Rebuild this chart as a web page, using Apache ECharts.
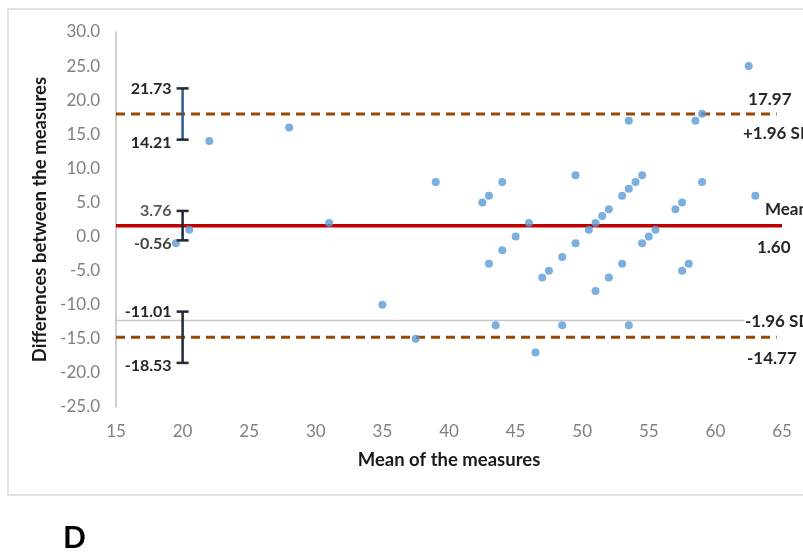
<!DOCTYPE html>
<html><head><meta charset="utf-8">
<script src="https://cdn.jsdelivr.net/npm/echarts@6/dist/echarts.min.js"></script>
<style>html,body{margin:0;padding:0;background:#fff}#c{width:803px;height:558px}</style>
</head><body><div id="c"></div>
<script>
// Data
const meanX = [19.5,20.5,22,28,31,35,37.5,39,42.5,43,44,43,44,45,46,43.5,46.5,47,47.5,48.5,48.5,49.5,49.5,50.5,51,51.5,52,53,53.5,54,54.5,53.5,54.5,55,55.5,51,52,53,53.5,57,57.5,57.5,58,58.5,59,59,62.5,63];
const diffY = [-1,1,14,16,2,-10,-15,8,5,6,8,-4,-2,0,2,-13,-17,-6,-5,-3,-13,9,-1,1,2,3,4,6,7,8,9,17,-1,0,1,-8,-6,-4,-13,4,5,-5,-4,17,18,8,25,6];
const meanDiff = 1.60;
const upperLoA = 17.97;
const lowerLoA = -14.77;
const greyRef = -12.3;
const ciX = 20;
const ciLow = [14.21, -0.56, -18.53];
const ciHigh = [21.73, 3.76, -11.01];
const rightLabels = ['17.97', '+1.96 SD', 'Mean', '1.60', '-1.96 SD', '-14.77'];
const rightLabelY = [upperLoA, upperLoA, meanDiff, meanDiff, greyRef, lowerLoA];

const FONT = 'Lato, "Open Sans", sans-serif';
const chart = echarts.init(document.getElementById('c'), null, {renderer: 'canvas'});

const scatterData = meanX.map((x, i) => [x, diffY[i]]);
const ciData = ciLow.map((lo, i) => [ciX, lo, ciHigh[i]]);
const ciBarColor = ['#2f5b8a', '#1f2a36', '#1f2a36'];
const ciHighTextColor = ['#262626', '#595959', '#262626'];
const ciLowTextColor = ['#262626', '#404040', '#262626'];

// right label placement (x in data units where text starts, y offsets in px)
const rlX = [62.45, 62.07, 63.72, 63.12, 62.22, 62.37];
const rlDy = [-15, 19, -16, 22, 1, 21];

const option = {
  animation: false,
  backgroundColor: '#fff',
  grid: {left: 116, right: 21, top: 32, bottom: 151, containLabel: false, outerBoundsMode: 'none'},
  xAxis: {
    type: 'value', min: 15, max: 65, interval: 5,
    name: 'Mean of the measures', nameLocation: 'middle', nameGap: 44,
    nameTextStyle: {fontFamily: FONT, fontSize: 18.5, fontWeight: 'bold', color: '#1a1a1a'},
    axisLine: {show: false}, axisTick: {show: false}, splitLine: {show: false},
    axisLabel: {margin: 16, fontFamily: FONT, fontSize: 17, color: '#808080'}
  },
  yAxis: {
    type: 'value', min: -25, max: 30, interval: 5,
    name: 'Differences between the measures', nameLocation: 'middle', nameGap: 63,
    nameTextStyle: {fontFamily: FONT, fontSize: 18.5, fontWeight: 'bold', color: '#1a1a1a'},
    axisLine: {show: true, onZero: false, lineStyle: {color: '#bfbfbf', width: 1.5}},
    axisTick: {show: false}, splitLine: {show: false},
    axisLabel: {margin: 16, fontFamily: FONT, fontSize: 17, color: '#808080', formatter: v => v.toFixed(1)}
  },
  graphic: [
    {type: 'rect', shape: {x: 8, y: 9, width: 820, height: 486}, style: {fill: 'none', stroke: '#d9d9d9', lineWidth: 1.5}, silent: true},
    {type: 'text', left: 63, top: 523, style: {text: 'D', font: 'bold 30px ' + FONT, fill: '#000'}}
  ],
  series: [
    {type: 'line', data: [[15, greyRef], [62.2, greyRef]], symbol: 'none', lineStyle: {color: '#c8c8c8', width: 1.5}, z: 1, silent: true},
    {type: 'line', data: [[15, upperLoA], [64.6, upperLoA]], symbol: 'none', lineStyle: {color: '#974706', width: 3, type: [9, 6]}, z: 2, silent: true},
    {type: 'line', data: [[15, lowerLoA], [64.6, lowerLoA]], symbol: 'none', lineStyle: {color: '#974706', width: 3, type: [9, 6]}, z: 2, silent: true},
    {type: 'line', data: [[15, meanDiff], [65, meanDiff]], symbol: 'none', lineStyle: {color: '#c00000', width: 3.5}, z: 2, silent: true},
    {type: 'scatter', data: scatterData, symbolSize: 8, itemStyle: {color: '#5b9bd5'}, z: 3},
    {
      type: 'custom', z: 4, data: ciData,
      renderItem: (params, api) => {
        const i = params.dataIndex;
        const lo = api.coord([api.value(0), api.value(1)]);
        const hi = api.coord([api.value(0), api.value(2)]);
        const cx = lo[0], cw = 6;
        return {type: 'group', children: [
          {type: 'line', shape: {x1: cx, y1: lo[1], x2: cx, y2: hi[1]}, style: {stroke: ciBarColor[i], lineWidth: 2.5}},
          {type: 'line', shape: {x1: cx - cw, y1: lo[1], x2: cx + cw, y2: lo[1]}, style: {stroke: '#1f2a36', lineWidth: 2.5}},
          {type: 'line', shape: {x1: cx - cw, y1: hi[1], x2: cx + cw, y2: hi[1]}, style: {stroke: '#1f2a36', lineWidth: 2.5}},
          {type: 'text', style: {x: cx - cw - 5, y: hi[1], text: ciHigh[i].toFixed(2), align: 'right', verticalAlign: 'middle', font: 'bold 16px ' + FONT, fill: ciHighTextColor[i]}},
          {type: 'text', style: {x: cx - cw - 5, y: lo[1] + 3, text: ciLow[i].toFixed(2), align: 'right', verticalAlign: 'middle', font: 'bold 16px ' + FONT, fill: ciLowTextColor[i]}}
        ]};
      }
    },
    {
      type: 'custom', z: 5, data: rightLabels.map((t, i) => [rlX[i], rightLabelY[i]]),
      renderItem: (params, api) => {
        const i = params.dataIndex;
        const p = api.coord([api.value(0), api.value(1)]);
        return {type: 'text', style: {x: p[0], y: p[1] + rlDy[i], text: rightLabels[i], align: 'left', verticalAlign: 'middle', font: 'bold 17px ' + FONT, fill: '#262626'}};
      }
    }
  ]
};
chart.setOption(option);
</script>
</body></html>
